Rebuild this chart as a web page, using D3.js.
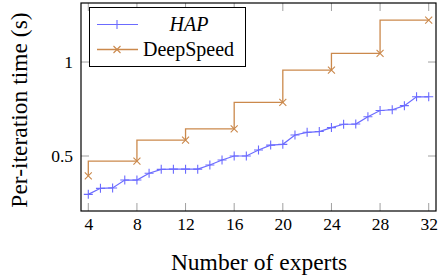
<!DOCTYPE html>
<html><head><meta charset="utf-8">
<script src="https://cdn.jsdelivr.net/npm/d3@7"></script>
<style>body{margin:0;background:#fff}svg{display:block}text{font-family:"Liberation Serif","Times New Roman",serif !important;fill:#000}</style>
</head><body>
<script>
const experts = d3.range(4, 33);
const hapTimes = [0.296,0.328,0.330,0.372,0.372,0.408,0.429,0.430,0.430,0.430,0.452,0.479,0.500,0.500,0.532,0.558,0.562,0.612,0.626,0.630,0.651,0.669,0.670,0.709,0.742,0.746,0.768,0.815,0.815];
const dsExperts = [4,8,12,16,20,24,28,32];
const dsTimes = [0.394,0.473,0.585,0.644,0.785,0.957,1.046,1.223];
const xTicks = [4,8,12,16,20,24,28,32];
const yTicks = [0.5,1];
const seriesNames = ["HAP","DeepSpeed"];

const W=440,H=277;
const svg=d3.select("body").append("svg").attr("width",W).attr("height",H);
const L=81,R=436,T=3,B=211;
const x=d3.scaleLinear().domain([3.4,32.6]).range([L,R]);
const y=d3.scaleLinear().domain([0.2074,1.314]).range([B,T]);
const blue="#6b6bff", orange="#cb894c", tickCol="#a0a0a0";

const g=svg.append("g");
xTicks.forEach(v=>{
  g.append("line").attr("x1",x(v)).attr("x2",x(v)).attr("y1",B).attr("y2",B-8).attr("stroke",tickCol).attr("stroke-width",1);
  g.append("line").attr("x1",x(v)).attr("x2",x(v)).attr("y1",T).attr("y2",T+8).attr("stroke",tickCol).attr("stroke-width",1);
});
yTicks.forEach(v=>{
  g.append("line").attr("x1",L).attr("x2",L+8).attr("y1",y(v)).attr("y2",y(v)).attr("stroke",tickCol).attr("stroke-width",1);
  g.append("line").attr("x1",R).attr("x2",R-8).attr("y1",y(v)).attr("y2",y(v)).attr("stroke",tickCol).attr("stroke-width",1);
});

const xa=svg.append("g").attr("transform",`translate(0,${B})`).attr("font-family",null)
  .call(d3.axisBottom(x).tickValues(xTicks).tickSize(0).tickPadding(7).tickFormat(d3.format("d")));
xa.attr("font-family",null).attr("font-size",null);
xa.select(".domain").remove();
xa.selectAll("text").style("font-size","17.5px").style("font-family","'Liberation Serif', serif").attr("fill","#000").attr("dy","0.71em");
const ya=svg.append("g").attr("transform",`translate(${L},0)`)
  .call(d3.axisLeft(y).tickValues(yTicks).tickSize(0).tickPadding(8).tickFormat(d=>d===1?"1":"0.5"));
ya.attr("font-family",null).attr("font-size",null);
ya.select(".domain").remove();
ya.selectAll("text").style("font-size","17.5px").style("font-family","'Liberation Serif', serif").attr("fill","#000");

const hapData=experts.map((e,i)=>[e,hapTimes[i]]);
const dsData=dsExperts.map((e,i)=>[e,dsTimes[i]]);
svg.append("path").attr("d",d3.line().x(d=>x(d[0])).y(d=>y(d[1])).curve(d3.curveStepBefore)(dsData))
  .attr("fill","none").attr("stroke",orange).attr("stroke-width",1.3);
svg.append("path").attr("d",d3.line().x(d=>x(d[0])).y(d=>y(d[1]))(hapData))
  .attr("fill","none").attr("stroke",blue).attr("stroke-width",1.2);

function plus(sel,cx,cy,r,col){
  sel.append("path").attr("d",`M${cx-r},${cy}H${cx+r}M${cx},${cy-r}V${cy+r}`).attr("stroke",col).attr("stroke-width",1.1).attr("fill","none");
}
function cross(sel,cx,cy,r,col){
  sel.append("path").attr("d",`M${cx-r},${cy-r}L${cx+r},${cy+r}M${cx-r},${cy+r}L${cx+r},${cy-r}`).attr("stroke",col).attr("stroke-width",1.1).attr("fill","none");
}
hapData.forEach(d=>plus(svg,x(d[0]),y(d[1]),4.5,blue));
dsData.forEach(d=>cross(svg,x(d[0]),y(d[1]),3.5,orange));

svg.append("rect").attr("x",L).attr("y",T).attr("width",R-L).attr("height",B-T).attr("fill","none").attr("stroke","#000").attr("stroke-width",1.2);

const lg=svg.append("g");
lg.append("rect").attr("x",89.5).attr("y",7.5).attr("width",156).attr("height",59).attr("fill","#fff").attr("stroke","#000").attr("stroke-width",1);
const lx1=97,lx2=138,lmx=117;
lg.append("line").attr("x1",lx1).attr("x2",lx2).attr("y1",24.5).attr("y2",24.5).attr("stroke",blue).attr("stroke-width",1.2);
plus(lg,lmx,24.5,4.5,blue);
lg.append("line").attr("x1",lx1).attr("x2",lx2).attr("y1",49.5).attr("y2",49.5).attr("stroke",orange).attr("stroke-width",1.3);
cross(lg,lmx,49.5,3.5,orange);
lg.append("text").attr("x",189).attr("y",30.5).attr("text-anchor","middle").attr("font-size",20).attr("font-style","italic").text(seriesNames[0]);
lg.append("text").attr("x",188.5).attr("y",55.5).attr("text-anchor","middle").attr("font-size",20).text(seriesNames[1]);

svg.append("text").attr("x",259).attr("y",270).attr("text-anchor","middle").attr("font-size",23.5).text("Number of experts");
svg.append("text").attr("transform","translate(27,110) rotate(-90)").attr("text-anchor","middle").attr("font-size",23.5).text("Per-iteration time (s)");
</script>
</body></html>
